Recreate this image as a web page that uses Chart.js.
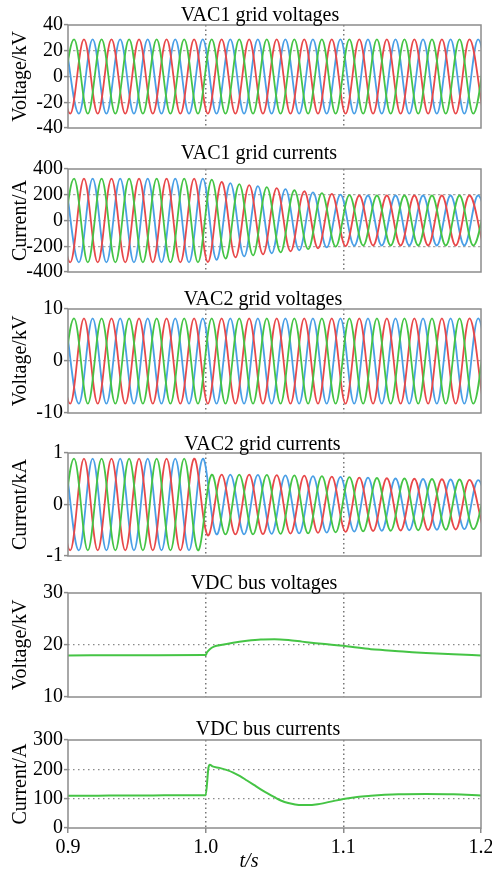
<!DOCTYPE html>
<html><head><meta charset="utf-8">
<script src="https://cdn.jsdelivr.net/npm/chart.js@4.4.1/dist/chart.umd.min.js"></script>
<style>
html,body{margin:0;padding:0;background:#fff;overflow:hidden;width:492px;height:875px;position:relative;}
canvas{position:absolute;left:0;}
</style></head><body>
<canvas id="c1"></canvas><canvas id="c2"></canvas><canvas id="c3"></canvas>
<canvas id="c4"></canvas><canvas id="c5"></canvas><canvas id="c6"></canvas>
<script>
// ================= DATA =================
const xTicks = [0.9, 1.0, 1.1, 1.2];
const xAxisTitle = 't/s';

// AC waveforms: successive extreme values (one every half period) of each phase
const halfPeriod = 0.01;                 // 50 Hz
const greenFirstExtremumT = 0.8944;      // first green extremum (a trough)
const redFirstExtremumT   = 0.8916;      // first red extremum (a peak)
const blueFirstExtremumT  = 0.8979;      // first blue extremum (a peak)
const greenFirstSign = -1, redFirstSign = 1, blueFirstSign = 1;

// VAC1 grid voltages (kV) - magnitudes of successive extrema
const vac1VoltTicks = [-40, -20, 0, 20, 40];
const vac1VoltGreen = [28.8,28.8,28.8,28.8,28.8,28.8,28.8,28.8,28.8,28.8,28.8,28.8,28.8,28.8,28.8,28.8,28.8,28.8,28.8,28.8,28.8,28.8,28.8,28.8,28.8,28.8,28.8,28.8,28.8,28.8,28.8,28.8];
const vac1VoltRed   = [28.8,28.8,28.8,28.8,28.8,28.8,28.8,28.8,28.8,28.8,28.8,28.8,28.8,28.8,28.8,28.8,28.8,28.8,28.8,28.8,28.8,28.8,28.8,28.8,28.8,28.8,28.8,28.8,28.8,28.8,28.8,28.8];
const vac1VoltBlue  = [28.8,28.8,28.8,28.8,28.8,28.8,28.8,28.8,28.8,28.8,28.8,28.8,28.8,28.8,28.8,28.8,28.8,28.8,28.8,28.8,28.8,28.8,28.8,28.8,28.8,28.8,28.8,28.8,28.8,28.8,28.8,28.8];

// VAC1 grid currents (A)
const vac1CurrTicks = [-400, -200, 0, 200, 400];
const vac1CurrGreen = [325,325,325,325,325,325,325,325,325,325,325,318,296,283,271,259,247,235,223,212,203,197,194,194,194,194,194,194,194,194,194,194];
const vac1CurrRed   = [325,325,325,325,325,325,325,325,325,325,325,323,300,287,275,263,251,239,227,216,206,199,194,194,194,194,194,194,194,194,194,194];
const vac1CurrBlue  = [325,325,325,325,325,325,325,325,325,325,325,305,291,279,267,255,243,231,219,209,201,196,194,194,194,194,194,194,194,194,194,194];

// VAC2 grid voltages (kV)
const vac2VoltTicks = [-10, 0, 10];
const vac2VoltGreen = [8.2,8.2,8.2,8.2,8.2,8.2,8.2,8.2,8.2,8.2,8.2,8.2,8.2,8.2,8.2,8.2,8.2,8.2,8.2,8.2,8.2,8.2,8.2,8.2,8.2,8.2,8.2,8.2,8.2,8.2,8.2,8.2];
const vac2VoltRed   = [8.2,8.2,8.2,8.2,8.2,8.2,8.2,8.2,8.2,8.2,8.2,8.2,8.2,8.2,8.2,8.2,8.2,8.2,8.2,8.2,8.2,8.2,8.2,8.2,8.2,8.2,8.2,8.2,8.2,8.2,8.2,8.2];
const vac2VoltBlue  = [8.2,8.2,8.2,8.2,8.2,8.2,8.2,8.2,8.2,8.2,8.2,8.2,8.2,8.2,8.2,8.2,8.2,8.2,8.2,8.2,8.2,8.2,8.2,8.2,8.2,8.2,8.2,8.2,8.2,8.2,8.2,8.2];

// VAC2 grid currents (kA)
const vac2CurrTicks = [-1, 0, 1];
const vac2CurrGreen = [0.89,0.89,0.89,0.89,0.89,0.89,0.89,0.89,0.89,0.89,0.89,0.58,0.58,0.58,0.58,0.575,0.57,0.565,0.56,0.55,0.54,0.53,0.52,0.515,0.51,0.505,0.5,0.495,0.49,0.485,0.48,0.475];
const vac2CurrRed   = [0.89,0.89,0.89,0.89,0.89,0.89,0.89,0.89,0.89,0.89,0.89,0.6,0.58,0.58,0.58,0.575,0.57,0.565,0.56,0.55,0.54,0.53,0.52,0.515,0.51,0.505,0.5,0.495,0.49,0.485,0.48,0.475];
const vac2CurrBlue  = [0.89,0.89,0.89,0.89,0.89,0.89,0.89,0.89,0.89,0.89,0.89,0.58,0.58,0.58,0.575,0.57,0.565,0.56,0.55,0.545,0.535,0.525,0.52,0.51,0.505,0.5,0.495,0.49,0.485,0.48,0.475,0.47];

// VDC bus voltage (kV)
const vdcVoltTicks = [10, 20, 30];
const vdcVoltT = [0.9, 0.95, 0.999, 1.0, 1.001, 1.003, 1.006, 1.01, 1.02, 1.03, 1.04, 1.05, 1.06, 1.07, 1.08, 1.09, 1.1, 1.11, 1.12, 1.13, 1.14, 1.15, 1.16, 1.18, 1.2];
const vdcVolt  = [18.0, 18.03, 18.06, 18.06, 18.6, 19.2, 19.7, 19.95, 20.45, 20.8, 21.05, 21.1, 20.95, 20.65, 20.35, 20.1, 19.85, 19.5, 19.2, 19.0, 18.8, 18.6, 18.45, 18.2, 18.0];

// VDC bus current (A)
const vdcCurrTicks = [0, 100, 200, 300];
const vdcCurrT = [0.9, 0.92, 0.94, 0.96, 0.98, 0.9995, 1.0, 1.002, 1.003, 1.005, 1.01, 1.015, 1.02, 1.025, 1.03, 1.035, 1.04, 1.045, 1.05, 1.055, 1.06, 1.065, 1.07, 1.075, 1.08, 1.09, 1.1, 1.11, 1.12, 1.13, 1.14, 1.16, 1.18, 1.2];
const vdcCurr  = [110, 110, 111, 111, 112, 112, 112, 205, 216, 210, 205, 198, 189, 177, 162, 147, 132, 118, 105, 93, 85, 80, 78, 78, 80, 89, 99, 106, 110, 113, 115, 116, 115, 111];

// ================= STYLE / LAYOUT =================
const GREEN = '#45c445', RED = '#e8484a', BLUE = '#4a9fe6';
const FONT = '"Liberation Serif", "Times New Roman", serif';
const PAD_TOP = 25, PAD_BOTTOM = 14, Y_AXIS_W = 68, CANVAS_W = 510, PAD_RIGHT = CANVAS_W - 481;

function extremaSeries(mags, startT, firstSign) {
  return mags.map((m, k) => ({ x: startT + k * halfPeriod, y: (k % 2 === 0 ? firstSign : -firstSign) * m }));
}
function pairSeries(ts, vs) { return ts.map((t, i) => ({ x: t, y: vs[i] })); }

function acSets(g, r, b) {
  return [
    { data: extremaSeries(g, greenFirstExtremumT, greenFirstSign), borderColor: GREEN },
    { data: extremaSeries(r, redFirstExtremumT, redFirstSign), borderColor: RED },
    { data: extremaSeries(b, blueFirstExtremumT, blueFirstSign), borderColor: BLUE }
  ].map(d => Object.assign(d, { tension: 0.36, borderWidth: 1.8, pointRadius: 0, fill: false }));
}
function dcSet(ts, vs) {
  return [{ data: pairSeries(ts, vs), borderColor: GREEN, borderWidth: 2, pointRadius: 0, fill: false, cubicInterpolationMode: 'monotone' }];
}

const panels = [
  { id: 'c1', title: 'VAC1 grid voltages', yTitle: 'Voltage/kV', ticks: vac1VoltTicks, sets: acSets(vac1VoltGreen, vac1VoltRed, vac1VoltBlue),
    plotTop: 25, plotBottom: 128, titleX: 260, titleBase: 20.5, hgrid: 'light' },
  { id: 'c2', title: 'VAC1 grid currents', yTitle: 'Current/A', ticks: vac1CurrTicks, sets: acSets(vac1CurrGreen, vac1CurrRed, vac1CurrBlue),
    plotTop: 169, plotBottom: 272, titleX: 259, titleBase: 158.5, hgrid: 'light' },
  { id: 'c3', title: 'VAC2 grid voltages', yTitle: 'Voltage/kV', ticks: vac2VoltTicks, sets: acSets(vac2VoltGreen, vac2VoltRed, vac2VoltBlue),
    plotTop: 309, plotBottom: 413, titleX: 263, titleBase: 305, hgrid: 'light' },
  { id: 'c4', title: 'VAC2 grid currents', yTitle: 'Current/kA', ticks: vac2CurrTicks, sets: acSets(vac2CurrGreen, vac2CurrRed, vac2CurrBlue),
    plotTop: 453, plotBottom: 556, titleX: 262.5, titleBase: 449.5, hgrid: 'light' },
  { id: 'c5', title: 'VDC bus voltages', yTitle: 'Voltage/kV', ticks: vdcVoltTicks, sets: dcSet(vdcVoltT, vdcVolt),
    plotTop: 593, plotBottom: 697, titleX: 264, titleBase: 588.5, hgrid: 'dark' },
  { id: 'c6', title: 'VDC bus currents', yTitle: 'Current/A', ticks: vdcCurrTicks, sets: dcSet(vdcCurrT, vdcCurr),
    plotTop: 740, plotBottom: 828, titleX: 268, titleBase: 734.5, hgrid: 'dark', last: true }
];

const decorPlugin = {
  id: 'decor',
  afterDraw(chart, args, o) {
    const { ctx, chartArea: a } = chart;
    ctx.save();
    ctx.strokeStyle = '#8c8c8c';
    ctx.lineWidth = 1.5;
    ctx.setLineDash([]);
    ctx.strokeRect(a.left, a.top, a.right - a.left, a.bottom - a.top);
    ctx.fillStyle = '#000';
    ctx.font = '20px ' + FONT;
    ctx.textAlign = 'center';
    ctx.textBaseline = 'alphabetic';
    ctx.fillText(o.title, o.titleX, o.titleBase - o.canvasTop);
    if (o.last) {
      ctx.font = 'italic 20px ' + FONT;
      ctx.fillText(xAxisTitle, 249, 867 - o.canvasTop);
    }
    ctx.font = '20px ' + FONT;
    ctx.translate(19.5, (a.top + a.bottom) / 2);
    ctx.rotate(-Math.PI / 2);
    ctx.textBaseline = 'middle';
    ctx.fillText(o.yTitle, 0, 1);
    ctx.restore();
  }
};

panels.forEach(p => {
  const canvas = document.getElementById(p.id);
  const canvasTop = p.plotTop - PAD_TOP;
  const bottomRoom = p.last ? 875 - p.plotBottom : PAD_BOTTOM;
  const h = p.plotBottom + bottomRoom - canvasTop;
  canvas.width = CANVAS_W; canvas.height = h;
  canvas.style.width = CANVAS_W + 'px'; canvas.style.height = h + 'px';
  canvas.style.top = canvasTop + 'px';
  const yMin = p.ticks[0], yMax = p.ticks[p.ticks.length - 1];
  const hColor = p.hgrid === 'light' ? '#a8a8a8' : '#8a8a8a';
  const hDash = p.hgrid === 'light' ? [2.5, 2.5] : [1.5, 3.5];
  new Chart(canvas, {
    type: 'line',
    data: { datasets: p.sets },
    plugins: [decorPlugin],
    options: {
      responsive: false, animation: false, devicePixelRatio: 1,
      parsing: false, normalized: true,
      elements: { line: { capBezierPoints: false } },
      layout: { padding: { top: PAD_TOP, bottom: p.last ? 0 : PAD_BOTTOM, left: 0, right: PAD_RIGHT } },
      plugins: { legend: { display: false }, tooltip: { enabled: false }, title: { display: false },
        decor: { title: p.title, yTitle: p.yTitle, titleX: p.titleX, titleBase: p.titleBase, canvasTop, last: !!p.last } },
      scales: {
        x: {
          type: 'linear', min: 0.9, max: 1.2,
          afterBuildTicks: ax => { ax.ticks = xTicks.map(v => ({ value: v })); },
          afterFit: ax => { ax.height = p.last ? 875 - p.plotBottom : 0; },
          border: { display: false, dash: [1.5, 3] },
          grid: {
            color: c => (c.tick && (c.tick.value <= 0.9001 || c.tick.value >= 1.1999)) ? 'rgba(0,0,0,0)' : '#777',
            lineWidth: 1.5, drawTicks: !!p.last, tickLength: 5, tickColor: '#8c8c8c', tickWidth: 1.5
          },
          ticks: {
            display: !!p.last, autoSkip: false, maxRotation: 0, padding: 3, color: '#000',
            font: { family: FONT, size: 20 }, callback: v => Number(v).toFixed(1)
          }
        },
        y: {
          type: 'linear', min: yMin, max: yMax,
          afterBuildTicks: ax => { ax.ticks = p.ticks.map(v => ({ value: v })); },
          afterFit: ax => { ax.width = Y_AXIS_W; },
          border: { display: false, dash: hDash },
          grid: {
            color: c => (c.tick && (c.tick.value === yMin || c.tick.value === yMax)) ? 'rgba(0,0,0,0)' : hColor,
            lineWidth: 1.2, tickLength: 4, tickColor: '#8c8c8c', tickWidth: 1.5
          },
          ticks: { autoSkip: false, padding: 1, color: '#000', font: { family: FONT, size: 20 }, callback: v => String(v) }
        }
      }
    }
  });
});
</script>
</body></html>
